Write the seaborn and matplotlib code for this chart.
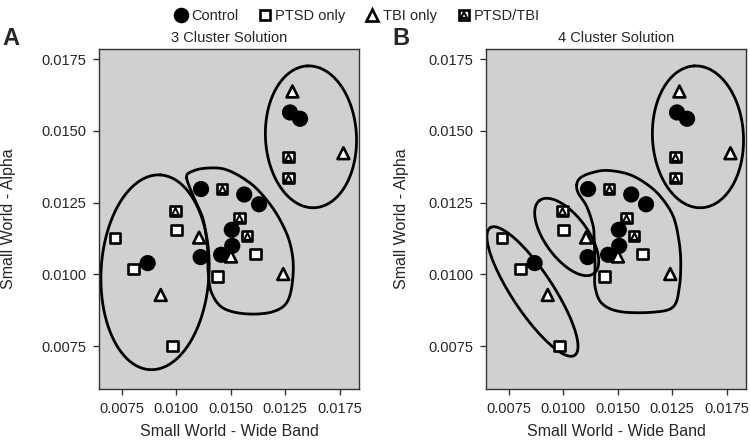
import numpy as np
import pandas as pd
import matplotlib
matplotlib.use("Agg")
import matplotlib.pyplot as plt
from matplotlib.lines import Line2D
import seaborn as sns

# data: wide band small-world (x) vs alpha small-world (y) per subject
control_x = [0.01522, 0.01568, 0.01114, 0.01312, 0.01380, 0.01255, 0.01257, 0.01206, 0.01112, 0.00869]
control_y = [0.01564, 0.01542, 0.01297, 0.01278, 0.01244, 0.01155, 0.01099, 0.01068, 0.01060, 0.01039]
ptsd_x = [0.00719, 0.01002, 0.01365, 0.00803, 0.01189, 0.00984]
ptsd_y = [0.01126, 0.01155, 0.01070, 0.01018, 0.00993, 0.00750]
tbi_x = [0.01533, 0.01767, 0.01105, 0.01251, 0.01491, 0.00929]
tbi_y = [0.01637, 0.01422, 0.01128, 0.01062, 0.01001, 0.00928]
both_x = [0.01514, 0.01514, 0.01211, 0.00996, 0.01289, 0.01325]
both_y = [0.01408, 0.01335, 0.01297, 0.01221, 0.01196, 0.01134]

groups = ["Control", "PTSD only", "TBI only", "PTSD/TBI"]
x_ticks = [0.0075, 0.0100, 0.0125, 0.0150, 0.0175]
x_ticklabels = ["0.0075", "0.0100", "0.0150", "0.0125", "0.0175"]  # as printed in the figure
y_ticks = [0.0075, 0.0100, 0.0125, 0.0150, 0.0175]
y_ticklabels = ["0.0075", "0.0100", "0.0125", "0.0150", "0.0175"]

# cluster outlines
# ellipses: centre (data), semi-axes in pixels, angle of major axis in degrees
ell_top = (0.01618, 0.01479, 71, 45.5, 93)
ell_a_left = (0.00903, 0.01007, 97.5, 54, 87)
ell_b_low = (0.00859, 0.00940, 76.5, 20.5, 123.5)
ell_b_mid = (0.01016, 0.01130, 45.5, 21.3, 126.5)
# free-hand blobs (closed curves through data points)
blob_a_x = [0.01048, 0.01071, 0.01140, 0.01232, 0.01339, 0.01415, 0.01476, 0.01522, 0.01537,
            0.01514, 0.01445, 0.01323, 0.01216, 0.01163, 0.01147, 0.01143, 0.01124, 0.01086]
blob_a_y = [0.01335, 0.01358, 0.01370, 0.01364, 0.01318, 0.01259, 0.01190, 0.01108, 0.01015,
            0.00911, 0.00870, 0.00862, 0.00882, 0.00934, 0.01004, 0.01097, 0.01190, 0.01259]
blob_b_x = [0.01062, 0.01077, 0.01123, 0.01200, 0.01306, 0.01398, 0.01459, 0.01505, 0.01528, 0.01539,
            0.01533, 0.01505, 0.01413, 0.01261, 0.01177, 0.01146, 0.01146, 0.01143, 0.01138, 0.01108, 0.01069]
blob_b_y = [0.01312, 0.01335, 0.01352, 0.01362, 0.01347, 0.01306, 0.01259, 0.01201, 0.01131, 0.01050,
            0.00957, 0.00887, 0.00868, 0.00870, 0.00899, 0.00957, 0.01027, 0.01108, 0.01166, 0.01236, 0.01283]

df = pd.DataFrame({
    "x": control_x + ptsd_x + tbi_x + both_x,
    "y": control_y + ptsd_y + tbi_y + both_y,
    "group": (["Control"] * len(control_x) + ["PTSD only"] * len(ptsd_x)
              + ["TBI only"] * len(tbi_x) + ["PTSD/TBI"] * len(both_x)),
})

sns.set_style("white")
plt.rcParams["font.family"] = ["Liberation Sans", "DejaVu Sans"]
plt.rcParams["font.size"] = 10.5

BG = "#d0d0d0"
markers = {"Control": "o", "PTSD only": "s", "TBI only": "^", "PTSD/TBI": "s"}
palette = {"Control": "black", "PTSD only": "white", "TBI only": "white", "PTSD/TBI": "white"}
sizes = {"Control": 95, "PTSD only": 58, "TBI only": 72, "PTSD/TBI": 58}

XLIM = (0.006459, 0.018385)
YLIM = (0.006003, 0.01785)


def draw_ellipse(ax, e, fig_w, fig_h):
    cx, cy, a, b, ang = e
    pos = ax.get_position()
    sx = pos.width * fig_w / (XLIM[1] - XLIM[0])
    sy = pos.height * fig_h / (YLIM[1] - YLIM[0])
    t = np.linspace(0, 2 * np.pi, 300)
    th = np.deg2rad(ang)
    dx = a * np.cos(th) * np.cos(t) - b * np.sin(th) * np.sin(t)
    dy = a * np.sin(th) * np.cos(t) + b * np.cos(th) * np.sin(t)
    ax.plot(cx + dx / sx, cy + dy / sy, color="black", lw=2.0, zorder=1)


def draw_blob(ax, bx, by):
    # closed Catmull-Rom spline through the outline points
    p = np.column_stack([bx, by])
    n = len(p)
    out = []
    for i in range(n):
        p0, p1, p2, p3 = p[(i - 1) % n], p[i], p[(i + 1) % n], p[(i + 2) % n]
        for t in np.linspace(0, 1, 20, endpoint=False):
            t2, t3 = t * t, t * t * t
            out.append(0.5 * ((2 * p1) + (-p0 + p2) * t + (2 * p0 - 5 * p1 + 4 * p2 - p3) * t2
                              + (-p0 + 3 * p1 - 3 * p2 + p3) * t3))
    out.append(out[0])
    out = np.array(out)
    ax.plot(out[:, 0], out[:, 1], color="black", lw=2.0, zorder=1)


fig = plt.figure(figsize=(7.5, 4.4), dpi=100)
ax_a = fig.add_axes([0.132, 0.1159, 0.3467, 0.7727])
ax_b = fig.add_axes([0.648, 0.1159, 0.3467, 0.7727])
FW, FH = 750, 440

for ax, title, ylab_x in [(ax_a, "3 Cluster Solution", -0.318), (ax_b, "4 Cluster Solution", -0.296)]:
    ax.set_facecolor(BG)
    sns.scatterplot(data=df, x="x", y="y", hue="group", style="group", size="group",
                    markers=markers, palette=palette, sizes=sizes, hue_order=groups,
                    edgecolor="black", linewidth=1.9, legend=False, ax=ax, zorder=3)
    inner = df[df["group"] == "PTSD/TBI"]
    sns.scatterplot(data=inner, x="x", y="y", marker="^", s=24, color="white",
                    edgecolor="black", linewidth=1.5, legend=False, ax=ax, zorder=4)
    ax.set_xlim(XLIM)
    ax.set_ylim(YLIM)
    ax.set_xticks(x_ticks)
    ax.set_xticklabels(x_ticklabels)
    ax.set_yticks(y_ticks)
    ax.set_yticklabels(y_ticklabels)
    ax.tick_params(axis="both", length=4.5, width=1, color="#333333", pad=4.5,
                   labelsize=10.5, direction="out", bottom=True, left=True)
    for s in ax.spines.values():
        s.set_color("#333333")
        s.set_linewidth(1)
    ax.set_title(title, fontsize=10.5, pad=5)
    ax.set_xlabel("Small World - Wide Band", fontsize=11.5)
    ax.set_ylabel("Small World - Alpha", fontsize=11.5)
    ax.xaxis.set_label_coords(0.5, -0.102)
    ax.yaxis.set_label_coords(ylab_x, 0.5)
    draw_ellipse(ax, ell_top, FW, FH)

draw_ellipse(ax_a, ell_a_left, FW, FH)
draw_blob(ax_a, blob_a_x, blob_a_y)
draw_ellipse(ax_b, ell_b_low, FW, FH)
draw_ellipse(ax_b, ell_b_mid, FW, FH)
draw_blob(ax_b, blob_b_x, blob_b_y)

fig.text(11 / FW, 1 - 38 / FH, "A", fontsize=17, fontweight="bold", ha="center", va="center")
fig.text(401 / FW, 1 - 38 / FH, "B", fontsize=17, fontweight="bold", ha="center", va="center")

# legend
h_ctrl = Line2D([], [], ls="", marker="o", ms=9.7, mfc="black", mec="black", mew=1.5)
h_ptsd = Line2D([], [], ls="", marker="s", ms=7.6, mfc="white", mec="black", mew=1.9)
h_tbi = Line2D([], [], ls="", marker="^", ms=8.5, mfc="white", mec="black", mew=1.9)
h_both_sq = Line2D([], [], ls="", marker="s", ms=7.6, mfc="white", mec="black", mew=1.9)
h_both_tr = Line2D([], [], ls="", marker="^", ms=4.9, mfc="white", mec="black", mew=1.5)
fig.legend([h_ctrl, h_ptsd, h_tbi, (h_both_sq, h_both_tr)], groups,
           loc="upper center", bbox_to_anchor=(0.476, 1.01), ncol=4, frameon=False,
           handlelength=0.9, handletextpad=0.25, columnspacing=1.4, fontsize=10.5)

fig.savefig("out.png", dpi=100, facecolor="white")
